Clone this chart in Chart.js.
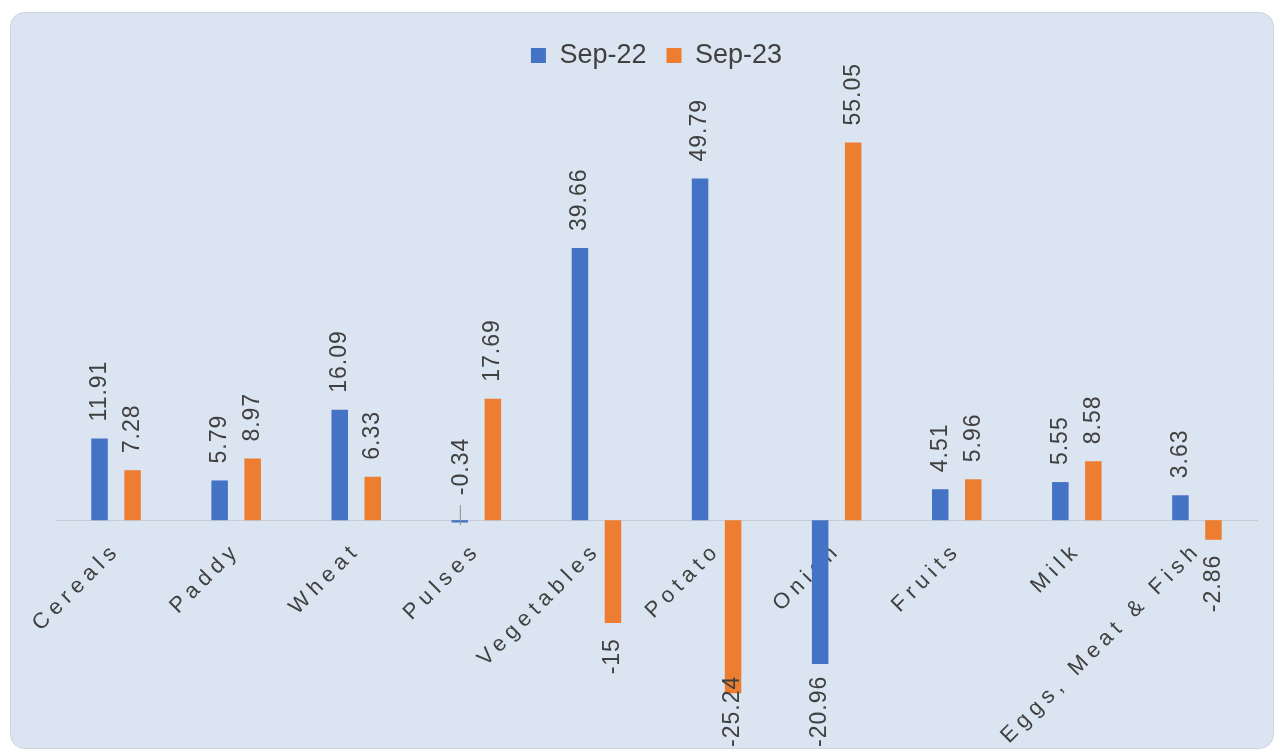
<!DOCTYPE html>
<html>
<head>
<meta charset="utf-8">
<script src="https://cdn.jsdelivr.net/npm/chart.js@4.4.1/dist/chart.umd.min.js"></script>
<style>
  html, body { margin: 0; padding: 0; background: #ffffff; }
  canvas { display: block; }
</style>
</head>
<body>
<canvas id="chart" width="1277" height="751"></canvas>
<script>
// Year-on-year change by commodity group
const categories = ['Cereals', 'Paddy', 'Wheat', 'Pulses', 'Vegetables', 'Potato', 'Onion', 'Fruits', 'Milk', 'Eggs, Meat & Fish'];
const seriesNames = ['Sep-22', 'Sep-23'];
const sep22Values = [11.91, 5.79, 16.09, -0.34, 39.66, 49.79, -20.96, 4.51, 5.55, 3.63];
const sep23Values = [7.28, 8.97, 6.33, 17.69, -15, -25.24, 55.05, 5.96, 8.58, -2.86];

const BLUE = '#4472c4';
const ORANGE = '#ed7d31';
const TEXT = '#404040';
const FONT = '"Liberation Sans", Arial, sans-serif';

// Rounded light panel behind everything
const panel = {
  id: 'panel',
  beforeDraw(chart) {
    const ctx = chart.ctx;
    ctx.save();
    ctx.fillStyle = '#ffffff';
    ctx.fillRect(0, 0, chart.width, chart.height);
    ctx.beginPath();
    ctx.roundRect(10.5, 12.5, 1263, 736, 14);
    ctx.fillStyle = '#dbe5f1';
    ctx.fill();
    ctx.strokeStyle = '#cdd5df';
    ctx.lineWidth = 1;
    ctx.stroke();
    ctx.restore();
  }
};

// Spread the letters of the category labels
const spacedTicks = {
  id: 'spacedTicks',
  afterLayout(chart) {
    const s = chart.scales.x;
    if (s._spacedWrap) return;
    s._spacedWrap = true;
    const orig = s.drawLabels.bind(s);
    s.drawLabels = function (area) {
      const ctx = this.ctx;
      const prev = ctx.letterSpacing;
      ctx.letterSpacing = '5.5px';
      orig(area);
      ctx.letterSpacing = prev;
    };
  }
};

// Vertical value labels at the end of each bar
const valueLabels = {
  id: 'valueLabels',
  afterDatasetsDraw(chart) {
    const ctx = chart.ctx;
    const zeroY = chart.scales.y.getPixelForValue(0);
    ctx.save();
    ctx.font = '23px ' + FONT;
    ctx.letterSpacing = '1px';
    ctx.fillStyle = TEXT;
    ctx.textBaseline = 'middle';
    chart.data.datasets.forEach((ds, i) => {
      const meta = chart.getDatasetMeta(i);
      meta.data.forEach((bar, j) => {
        const v = ds.data[j];
        const txt = String(v);
        const w = ctx.measureText(txt).width;
        ctx.save();
        if (v >= 0) {
          ctx.translate(bar.x, bar.y - 17);
          ctx.rotate(-Math.PI / 2);
          ctx.textAlign = 'left';
          ctx.fillText(txt, 0, 0);
        } else if (bar.y - zeroY < 6) {
          // too short to hold a label below: lift it above the axis with a leader
          ctx.strokeStyle = '#8a8f96';
          ctx.lineWidth = 1;
          ctx.beginPath();
          ctx.moveTo(bar.x + 0.5, zeroY - 15);
          ctx.lineTo(bar.x + 0.5, zeroY + 5);
          ctx.stroke();
          ctx.translate(bar.x + 2, zeroY - 25);
          ctx.rotate(-Math.PI / 2);
          ctx.textAlign = 'left';
          ctx.fillText(txt, 0, 0);
        } else {
          let top = bar.y + 15;
          const limit = chart.height - 4;
          if (top + w > limit) top = limit - w;
          ctx.translate(bar.x, top);
          ctx.rotate(-Math.PI / 2);
          ctx.textAlign = 'right';
          ctx.fillText(txt, 0, 0);
        }
        ctx.restore();
      });
    });
    ctx.restore();
  }
};

new Chart(document.getElementById('chart'), {
  type: 'bar',
  data: {
    labels: categories,
    datasets: [
      { label: seriesNames[0], data: sep22Values, backgroundColor: BLUE, categoryPercentage: 0.55, barPercentage: 0.5 },
      { label: seriesNames[1], data: sep23Values, backgroundColor: ORANGE, categoryPercentage: 0.55, barPercentage: 0.5 }
    ]
  },
  options: {
    responsive: false,
    animation: false,
    devicePixelRatio: 1,
    layout: { padding: { top: 22, left: 56, right: 20, bottom: 25 } },
    scales: {
      x: {
        position: { y: 0 },
        afterFit(scale) { scale.height = 0; },
        grid: { display: false, drawTicks: false },
        border: { display: true, color: '#c5ccd6', width: 1 },
        ticks: {
          autoSkip: false,
          minRotation: 45,
          maxRotation: 45,
          padding: 17,
          labelOffset: 1,
          color: TEXT,
          font: { family: FONT, size: 22 }
        }
      },
      y: {
        display: false,
        min: -30,
        max: 64.3
      }
    },
    plugins: {
      legend: {
        position: 'top',
        fullSize: false,
        labels: {
          boxWidth: 15,
          boxHeight: 15,
          padding: 20,
          color: TEXT,
          font: { family: FONT, size: 27 }
        }
      },
      tooltip: { enabled: false }
    }
  },
  plugins: [panel, spacedTicks, valueLabels]
});
</script>
</body>
</html>
